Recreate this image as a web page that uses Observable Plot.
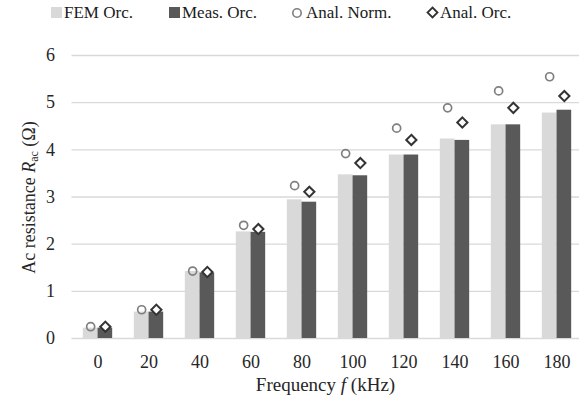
<!DOCTYPE html>
<html>
<head>
<meta charset="utf-8">
<script src="https://cdn.jsdelivr.net/npm/d3@7"></script>
<script src="https://cdn.jsdelivr.net/npm/@observablehq/plot@0.6"></script>
<style>
  html, body { margin: 0; padding: 0; background: #fff; }
  #wrap { width: 579px; height: 402px; position: relative; font-family: 'Liberation Serif', serif; }
  #legend { position: relative; width: 579px; height: 30px; font-size: 17px; color: #1a1a1a; font-family: 'Liberation Serif', serif; }
  .li { position: absolute; top: 3px; height: 20px; line-height: 20px; white-space: nowrap; }
  .sw { position: absolute; top: 4px; }
  #chart svg { display: block; overflow: visible; font-family: 'Liberation Serif', serif !important; }
  #chart svg text { font-family: 'Liberation Serif', serif !important; }
</style>
</head>
<body>
<div id="wrap">
  <div id="legend"></div>
  <div id="chart"></div>
</div>
<script>
// ---- data ----
const freqs = [0, 20, 40, 60, 80, 100, 120, 140, 160, 180];
const femOrc = [0.22, 0.56, 1.42, 2.26, 2.94, 3.47, 3.89, 4.23, 4.53, 4.78];
const measOrc = [0.22, 0.56, 1.39, 2.25, 2.89, 3.45, 3.89, 4.20, 4.53, 4.84];
const analNorm = [0.25, 0.61, 1.43, 2.40, 3.24, 3.92, 4.46, 4.89, 5.25, 5.55];
const analOrc = [0.25, 0.61, 1.41, 2.32, 3.11, 3.72, 4.21, 4.58, 4.89, 5.14];
const yTicks = [0, 1, 2, 3, 4, 5, 6];
const seriesNames = ["FEM Orc.", "Meas. Orc.", "Anal. Norm.", "Anal. Orc."];

const rows = freqs.map((f, i) => ({f: String(f), fem: femOrc[i], meas: measOrc[i], norm: analNorm[i], orc: analOrc[i]}));

const cFem = "#d9d9d9", cMeas = "#595959", cNorm = "#7f7f7f", cOrc = "#333333";

// ---- legend (HTML above the SVG) ----
const legend = document.getElementById("legend");
const legendItems = [
  {name: seriesNames[0], x: 51, tx: 64, sw: `<svg class="sw" width="11" height="11" style="left:0"><rect width="11" height="11" fill="${cFem}"/></svg>`},
  {name: seriesNames[1], x: 169, tx: 182, sw: `<svg class="sw" width="11" height="11" style="left:0"><rect width="11" height="11" fill="${cMeas}"/></svg>`},
  {name: seriesNames[2], x: 291, tx: 306, sw: `<svg class="sw" width="12" height="12" style="left:0"><circle cx="6" cy="6" r="4.2" fill="none" stroke="${cNorm}" stroke-width="1.6"/></svg>`},
  {name: seriesNames[3], x: 426, tx: 440, sw: `<svg class="sw" width="13" height="13" style="left:0;top:3px"><path d="M6.5,1.5L11.5,6.5L6.5,11.5L1.5,6.5Z" fill="#fff" stroke="${cOrc}" stroke-width="1.8"/></svg>`}
];
for (const it of legendItems) {
  const d = document.createElement("div");
  d.className = "li";
  d.style.left = it.x + "px";
  d.innerHTML = it.sw + `<span style="position:absolute;left:${it.tx - it.x}px">${it.name}</span>`;
  legend.appendChild(d);
}

// ---- chart ----
const W = 579, H = 372;
const bandW = (582 - 71.5) / freqs.length;
const half = bandW / 2;
const barW = 14.7;

const plot = Plot.plot({
  width: W,
  height: H,
  marginLeft: 71.5,
  marginRight: 0,
  marginTop: 25,
  marginBottom: 64,
  style: {fontFamily: "'Liberation Serif', serif", fontSize: "18px", color: "#262626", background: "#fff", overflow: "visible"},
  x: {type: "band", domain: freqs.map(String), range: [71.5, 582], padding: 0, label: null},
  y: {domain: [0, 6], ticks: yTicks, label: null},
  marks: [
    Plot.ruleY(yTicks, {stroke: "#d9d9d9", strokeWidth: 1.4}),
    Plot.barY(rows, {x: "f", y: "fem", fill: cFem, insetLeft: half - barW, insetRight: half}),
    Plot.barY(rows, {x: "f", y: "meas", fill: cMeas, insetLeft: half, insetRight: half - barW}),
    Plot.dot(rows, {x: "f", y: "norm", dx: -barW / 2, r: 4, symbol: "circle", fill: "none", stroke: cNorm, strokeWidth: 1.7}),
    Plot.dot(rows, {x: "f", y: "orc", dx: barW / 2, r: 4.6, symbol: "diamond2", fill: "#fff", stroke: cOrc, strokeWidth: 2}),
    Plot.axisX({tickSize: 0, tickPadding: 17, label: null, fontSize: 18}),
    Plot.axisY({ticks: yTicks, tickFormat: d3.format("d"), tickSize: 0, tickPadding: 17, label: null, fontSize: 18})
  ]
});
document.getElementById("chart").appendChild(plot);

// axis titles with italic / subscript parts
const svg = d3.select(plot);
const xt = svg.append("text")
  .attr("x", 325.5)
  .attr("y", 361)
  .attr("text-anchor", "middle")
  .attr("fill", "#262626")
  .style("font-size", "19px");
xt.append("tspan").text("Frequency ");
xt.append("tspan").attr("font-style", "italic").text("f");
xt.append("tspan").text(" (kHz)");

const yt = svg.append("text")
  .attr("transform", "translate(34.5,167.5) rotate(-90)")
  .attr("text-anchor", "middle")
  .attr("fill", "#262626")
  .style("font-size", "18px");
yt.append("tspan").text("Ac resistance ");
yt.append("tspan").attr("font-style", "italic").text("R");
yt.append("tspan").attr("font-size", "12px").attr("dy", "3").text("ac");
yt.append("tspan").attr("dy", "-3").text(" (Ω)");
</script>
</body>
</html>
